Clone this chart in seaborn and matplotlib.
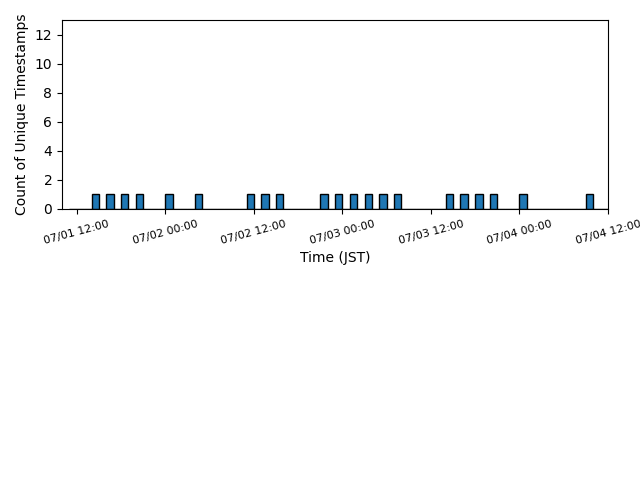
import numpy as np
import pandas as pd
import matplotlib
matplotlib.use("Agg")
import matplotlib.pyplot as plt
import matplotlib.dates as mdates
from matplotlib.ticker import MaxNLocator
import seaborn as sns

# unique timestamps (JST), one per hourly bin
timestamps = [
    "2024-07-01 14:00", "2024-07-01 16:00", "2024-07-01 18:00", "2024-07-01 20:00",
    "2024-07-02 00:00", "2024-07-02 04:00", "2024-07-02 11:00", "2024-07-02 13:00",
    "2024-07-02 15:00", "2024-07-02 21:00", "2024-07-02 23:00", "2024-07-03 01:00",
    "2024-07-03 03:00", "2024-07-03 05:00", "2024-07-03 07:00", "2024-07-03 14:00",
    "2024-07-03 16:00", "2024-07-03 18:00", "2024-07-03 20:00", "2024-07-04 00:00",
    "2024-07-04 09:00",
]
bin_start = "2024-07-01 11:00"
bin_end = "2024-07-04 12:00"
view_start = "2024-07-01 10:00"

times = pd.to_datetime(timestamps)
x = mdates.date2num(times.to_pydatetime())
edges = mdates.date2num(pd.date_range(bin_start, bin_end, freq="h").to_pydatetime())

fig = plt.figure(figsize=(6.4, 4.8), dpi=100)
ax = fig.add_axes([0.097, 0.565, 0.853, 0.393])

sns.histplot(x=x, bins=edges, ax=ax, color="#1f77b4", edgecolor="black",
             alpha=1, linewidth=1)

ax.set_xlim(mdates.date2num(pd.Timestamp(view_start)), mdates.date2num(pd.Timestamp(bin_end)))
ax.set_ylim(0, 13)
ax.yaxis.set_major_locator(MaxNLocator(integer=True))
ax.xaxis.set_major_locator(mdates.HourLocator(byhour=[0, 12]))
ax.xaxis.set_major_formatter(mdates.DateFormatter("%m/%d %H:%M"))
plt.setp(ax.get_xticklabels(), rotation=15, fontsize=8)
ax.set_xlabel("Time (JST)")
ax.set_ylabel("Count of Unique Timestamps")

fig.savefig("out.png", dpi=100)
